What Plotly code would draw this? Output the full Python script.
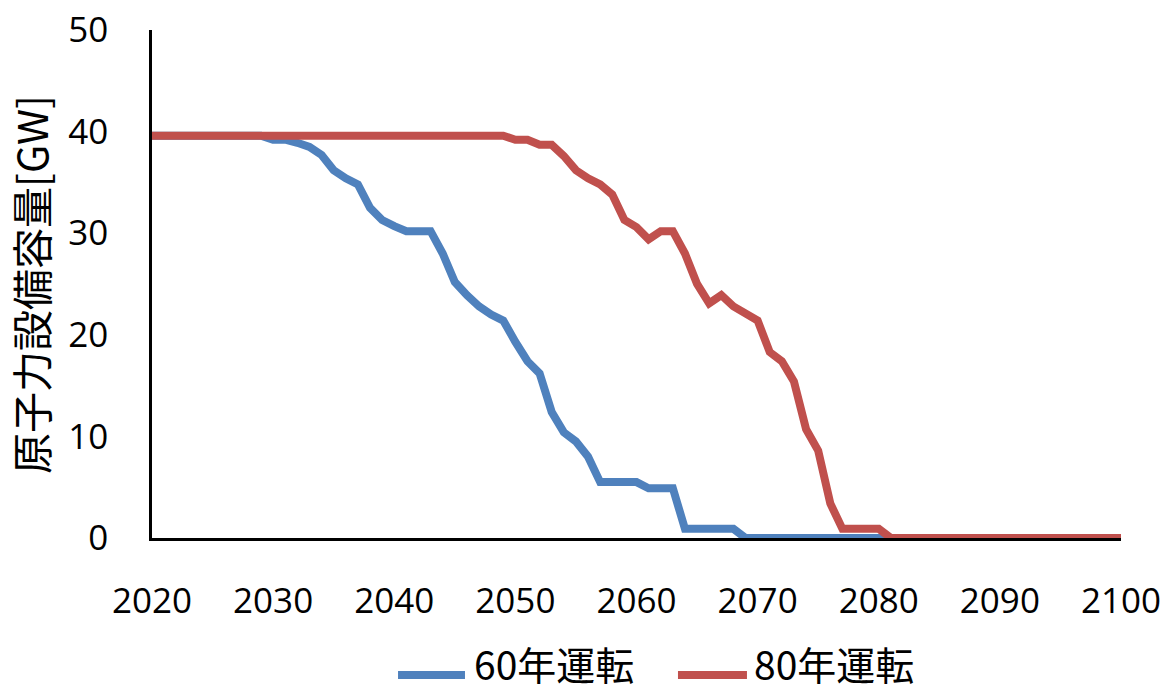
import plotly.graph_objects as go

# Year axis and installed nuclear capacity (GW) for two operating-life cases
years = list(range(2020, 2101))

name_60 = "60年運転"
name_80 = "80年運転"

capacity_60 = (
    [39.6] * 10
    + [39.2, 39.2, 38.9, 38.5, 37.7, 36.2, 35.4, 34.8, 32.5, 31.3,
       30.7, 30.2, 30.2, 30.2, 28.0, 25.2, 23.9, 22.8, 22.0, 21.4,
       19.3, 17.4, 16.2, 12.4, 10.4, 9.5, 8.0, 5.5, 5.5, 5.5,
       5.5, 4.9, 4.9, 4.9, 0.9, 0.9, 0.9, 0.9, 0.9]
    + [0.0] * 32
)

capacity_80 = (
    [39.6] * 30
    + [39.2, 39.2, 38.7, 38.7, 37.6, 36.2, 35.4, 34.8, 33.8, 31.3,
       30.6, 29.4, 30.2, 30.2, 28.0, 25.0, 23.1, 23.9, 22.8, 22.1,
       21.4, 18.3, 17.4, 15.4, 10.7, 8.6, 3.4, 0.9, 0.9, 0.9,
       0.9]
    + [0.0] * 20
)

x_ticks = [2020, 2030, 2040, 2050, 2060, 2070, 2080, 2090, 2100]
y_ticks = [0, 10, 20, 30, 40, 50]
y_title = "原子力設備容量[GW]"

blue = "#4F81BD"
red = "#C0504D"
cjk_font = "Noto Sans CJK JP"
num_font = "Open Sans"

fig = go.Figure()
fig.add_trace(go.Scatter(x=years, y=capacity_60, mode="lines", name=name_60,
                         line=dict(color=blue, width=8), cliponaxis=False,
                         showlegend=False))
fig.add_trace(go.Scatter(x=years, y=capacity_80, mode="lines", name=name_80,
                         line=dict(color=red, width=8), cliponaxis=False,
                         showlegend=False))

# Legend drawn below the axis: a short line sample followed by the series name
legend_items = [
    (name_60, blue, 0.2539, 0.323, 0.3313),
    (name_80, red, 0.5428, 0.614, 0.6202),
]
legend_line_y = -0.2697
legend_text_y = -0.246
for label, color, x0, x1, xt in legend_items:
    fig.add_shape(type="line", xref="paper", yref="paper",
                  x0=x0, x1=x1, y0=legend_line_y, y1=legend_line_y,
                  line=dict(color=color, width=8))
    fig.add_annotation(xref="paper", yref="paper", x=xt, y=legend_text_y,
                       xanchor="left", yanchor="middle", showarrow=False,
                       borderpad=0,
                       text=label, font=dict(family=cjk_font, size=39, color="black"))

fig.add_annotation(xref="paper", yref="paper", x=-0.126, y=0.5,
                   xanchor="center", yanchor="middle", showarrow=False,
                   textangle=-90, text=y_title,
                   font=dict(family=cjk_font, size=41, color="black"))

fig.update_layout(
    width=1164, height=692,
    margin=dict(l=152, r=43, t=30, b=154),
    paper_bgcolor="white", plot_bgcolor="white",
    showlegend=False,
)
fig.update_xaxes(
    range=[2020, 2100], tickvals=x_ticks, ticktext=[str(v) for v in x_ticks],
    showgrid=False, zeroline=False, showline=True, linecolor="black",
    linewidth=2.5, ticks="", ticklabelstandoff=30, layer="below traces",
    automargin=False,
    tickfont=dict(family=num_font, size=35, color="black"),
)
fig.update_yaxes(
    range=[0, 50], tickvals=y_ticks, ticktext=[str(v) for v in y_ticks],
    showgrid=False, zeroline=False, showline=True, linecolor="black",
    linewidth=2.5, ticks="", ticklabelstandoff=34, layer="below traces",
    automargin=False,
    tickfont=dict(family=num_font, size=35, color="black"),
)

fig.write_html("out.html")
